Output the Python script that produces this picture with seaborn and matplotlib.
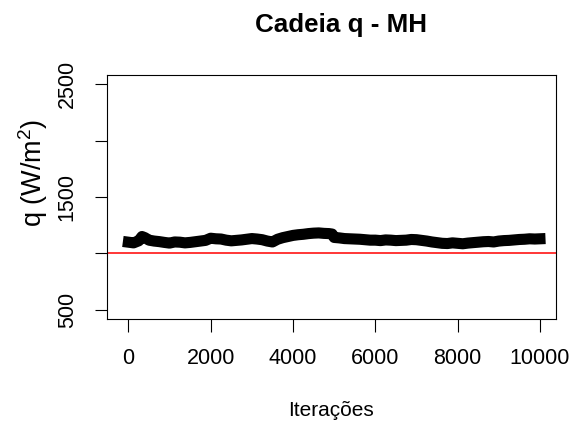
import matplotlib
matplotlib.use("Agg")
import matplotlib.pyplot as plt
import seaborn as sns
import pandas as pd

iteracoes = [0, 125, 250, 330, 400, 500, 625, 750, 875, 1000, 1125, 1250, 1375, 1500,
             1625, 1750, 1875, 2000, 2125, 2250, 2375, 2500, 2625, 2750, 2875,
             3000, 3125, 3250, 3375, 3500, 3625, 3750, 3875, 4000, 4125, 4250, 4375,
             4500, 4625, 4750, 4875, 4950, 5000, 5125, 5250, 5375, 5500, 5625,
             5750, 5875, 6000, 6125, 6250, 6375, 6500, 6625, 6750, 6875, 7000, 7125,
             7250, 7375, 7500, 7625, 7750, 7875, 8000, 8125, 8250, 8375, 8500, 8625,
             8750, 8875, 9000, 9125, 9250, 9375, 9500, 9625, 9750, 9875, 10000]
q_cadeia = [1100, 1094, 1112, 1150, 1140, 1118, 1110, 1105, 1098, 1092, 1102, 1100, 1094, 1098,
            1104, 1110, 1116, 1135, 1130, 1128, 1118, 1112, 1116, 1120, 1126,
            1132, 1128, 1122, 1110, 1102, 1126, 1140, 1150, 1160, 1166, 1170, 1176,
            1180, 1182, 1178, 1176, 1172, 1142, 1138, 1132, 1130, 1128, 1126,
            1122, 1118, 1118, 1114, 1120, 1118, 1114, 1116, 1118, 1124, 1122, 1116,
            1110, 1102, 1096, 1090, 1088, 1094, 1090, 1086, 1092, 1096, 1100, 1104,
            1106, 1102, 1110, 1114, 1116, 1120, 1124, 1126, 1130, 1128, 1130]
q_ref = 1000
y_ticks = [500, 1000, 1500, 2000, 2500]
y_tick_labels = ["500", "", "1500", "", "2500"]
x_ticks = [0, 2000, 4000, 6000, 8000, 10000]

df = pd.DataFrame({"Iterações": iteracoes, "q": q_cadeia})

sns.set_style("white")
plt.rcParams["font.family"] = ["Liberation Sans", "DejaVu Sans"]
plt.rcParams["mathtext.fontset"] = "custom"
plt.rcParams["mathtext.rm"] = "Liberation Sans"
plt.rcParams["mathtext.it"] = "Liberation Sans"
plt.rcParams["text.color"] = "black"
plt.rcParams["xtick.color"] = "black"
plt.rcParams["ytick.color"] = "black"

W, H = 571, 423
fig = plt.figure(figsize=(W / 100, H / 100), dpi=100)
ax = fig.add_axes([107 / W, 1 - 319 / H, (556 - 107) / W, (319 - 75) / H])

sns.lineplot(data=df, x="Iterações", y="q", color="black", linewidth=8,
             ax=ax, solid_capstyle="projecting", solid_joinstyle="round")
ax.axhline(q_ref, color="red", linewidth=1.1)

ax.set_xlim(-520, 10390)
ax.set_ylim(420, 2580)
ax.set_xticks(x_ticks)
ax.set_xticklabels([str(v) for v in x_ticks], fontsize=15.5, color="black")
ax.set_yticks(y_ticks)
ax.set_yticklabels(y_tick_labels, fontsize=15.5, rotation=90, va="center", color="black")
ax.tick_params(axis="both", direction="out", length=9, width=0.8, color="black",
               left=True, bottom=True)
ax.tick_params(axis="y", pad=12)
ax.tick_params(axis="x", pad=12)
for s in ax.spines.values():
    s.set_color("black")
    s.set_linewidth(0.8)
ax.set_xlabel("")
ax.set_ylabel("")

fig.text(341 / W, 1 - 25 / H, "Cadeia q - MH", ha="center", va="center",
         fontsize=18.7, fontweight="bold", color="black")
fig.text(331 / W, 1 - 410 / H, "Iterações", ha="center", va="center", fontsize=15,
         color="black")
fig.text(33 / W, 1 - 173 / H, r"q (W/m$^2$)", ha="center", va="center",
         fontsize=19.5, rotation=90, color="black")

fig.savefig("out.png", dpi=100)
